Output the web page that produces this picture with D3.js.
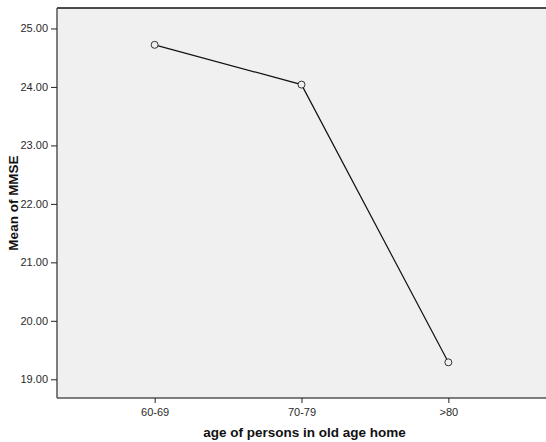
<!DOCTYPE html>
<html><head><meta charset="utf-8">
<script src="https://cdn.jsdelivr.net/npm/d3@7"></script>
<style>
body{margin:0;background:#fff;}
text{font-family:Arial,"Liberation Sans",sans-serif;}
</style></head>
<body><svg id="c" width="546" height="442"></svg>
<script>
const categories = ["60-69", "70-79", ">80"];
const meanMMSE = [24.72, 24.04, 19.29];
const yTicks = [19, 20, 21, 22, 23, 24, 25];
const xTitle = "age of persons in old age home";
const yTitle = "Mean of MMSE";

const svg = d3.select("#c");
const L = 57, R = 546, T = 8, B = 398;
const x = d3.scalePoint().domain(categories).range([L, R]).padding(0.665);
const y = d3.scaleLinear().domain([18.68, 25.35]).range([B, T]);

svg.append("rect").attr("x", L).attr("y", T).attr("width", R - L).attr("height", B - T).attr("fill", "#f0f0f0");
svg.append("line").attr("x1", L).attr("x2", R).attr("y1", T).attr("y2", T).attr("stroke", "#111").attr("stroke-width", 1.5);

const ya = svg.append("g").attr("transform", `translate(${L},0)`)
  .call(d3.axisLeft(y).tickValues(yTicks).tickFormat(d3.format(".2f")).tickSize(6).tickSizeOuter(0));
const xa = svg.append("g").attr("transform", `translate(0,${B})`)
  .call(d3.axisBottom(x).tickSize(5).tickSizeOuter(0));
[ya, xa].forEach(a => {
  a.select(".domain").attr("stroke", "#555").attr("stroke-width", 1.5);
  a.selectAll(".tick line").attr("stroke", "#222");
  a.selectAll(".tick text").attr("font-size", 11).attr("fill", "#2a2a2a").attr("font-family", "Arial, 'Liberation Sans', sans-serif");
});
ya.select(".domain").attr("d", `M0,${T}V${B}`);
xa.select(".domain").attr("d", `M${L},0H${R}`);
xa.selectAll(".tick text").attr("dy", "0.9em");

const line = d3.line().x((d, i) => x(categories[i])).y(d => y(d));
svg.append("path").datum(meanMMSE).attr("d", line).attr("fill", "none").attr("stroke", "#111").attr("stroke-width", 1.2);
svg.selectAll("circle.pt").data(meanMMSE).enter().append("circle")
  .attr("cx", (d, i) => x(categories[i])).attr("cy", d => y(d)).attr("r", 3.5)
  .attr("fill", "#f0f0f0").attr("stroke", "#333").attr("stroke-width", 1);

svg.append("text").attr("x", (L + R) / 2 + 3).attr("y", 437).attr("text-anchor", "middle")
  .attr("font-size", 13.5).attr("font-weight", "bold").attr("fill", "#111").text(xTitle);
svg.append("text").attr("transform", `translate(18,${(T + B) / 2}) rotate(-90)`).attr("text-anchor", "middle")
  .attr("font-size", 13.5).attr("font-weight", "bold").attr("fill", "#111").text(yTitle);
</script></body></html>
